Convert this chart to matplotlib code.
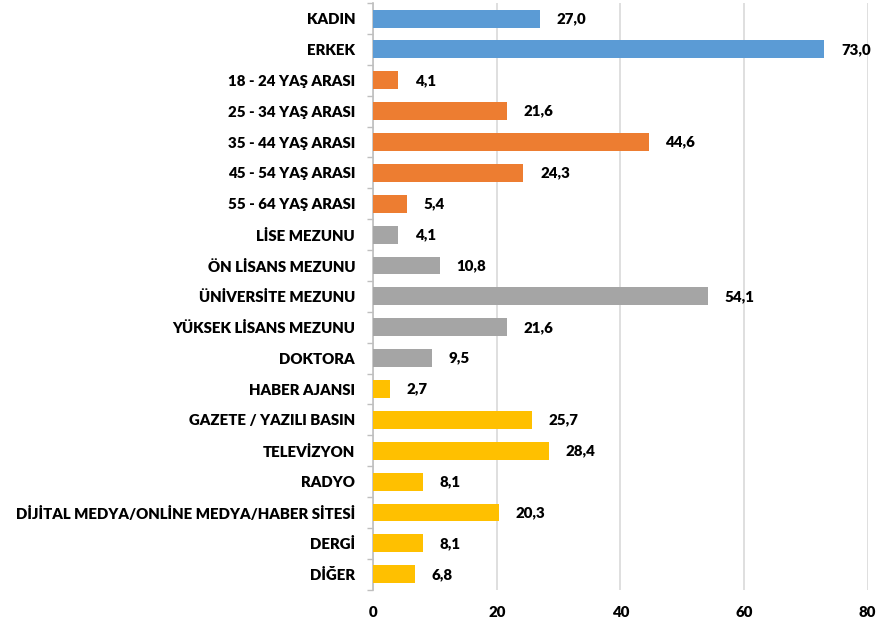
import matplotlib
matplotlib.use("Agg")
import matplotlib.pyplot as plt
import numpy as np

categories = ["KADIN", "ERKEK", "18 - 24 YAŞ ARASI", "25 - 34 YAŞ ARASI", "35 - 44 YAŞ ARASI",
              "45 - 54 YAŞ ARASI", "55 - 64 YAŞ ARASI", "LİSE MEZUNU", "ÖN LİSANS MEZUNU",
              "ÜNİVERSİTE MEZUNU", "YÜKSEK LİSANS MEZUNU", "DOKTORA", "HABER AJANSI",
              "GAZETE / YAZILI BASIN", "TELEVİZYON", "RADYO",
              "DİJİTAL MEDYA/ONLİNE MEDYA/HABER SİTESİ", "DERGİ", "DİĞER"]
values = [27.0, 73.0, 4.1, 21.6, 44.6, 24.3, 5.4, 4.1, 10.8, 54.1, 21.6, 9.5, 2.7,
          25.7, 28.4, 8.1, 20.3, 8.1, 6.8]
groups = [0, 0, 1, 1, 1, 1, 1, 2, 2, 2, 2, 2, 3, 3, 3, 3, 3, 3, 3]
group_colors = ["#5B9BD5", "#ED7D31", "#A5A5A5", "#FFC000"]
xticks = [0, 20, 40, 60, 80]

plt.rcParams['font.family'] = ['Lato', 'DejaVu Sans']
FS = 10.85
FW = "heavy"

fig = plt.figure(figsize=(8.8, 6.26), dpi=100)
ax = fig.add_axes([0.424, 0.058, 0.562, 0.937])

n = len(categories)
y = np.arange(n)
colors = [group_colors[g] for g in groups]
ax.barh(y, values, height=0.58, color=colors, zorder=3)

for yi, v in zip(y, values):
    ax.annotate(f"{v:.1f}".replace(".", ","), xy=(v, yi), xytext=(12, 0),
                textcoords="offset points", va="center", ha="left",
                fontsize=FS, fontweight=FW, color="#000000")

ax.set_ylim(n - 0.5, -0.5)
ax.set_xlim(0, 80)
ax.set_yticks(y)
ax.set_yticklabels(categories, fontsize=FS, fontweight=FW)
ax.set_yticks(np.arange(n + 1) - 0.5, minor=True)
ax.tick_params(axis="y", which="major", length=0, pad=13)
ax.tick_params(axis="y", which="minor", length=4, color="#BFBFBF", width=1)
ax.set_xticks(xticks)
ax.set_xticklabels([str(t) for t in xticks], fontsize=FS, fontweight=FW)
ax.tick_params(axis="x", length=0, pad=12)
ax.grid(axis="x", color="#D9D9D9", linewidth=1.2, zorder=0)
for s in ["top", "right", "bottom"]:
    ax.spines[s].set_visible(False)
ax.spines["left"].set_color("#BFBFBF")
ax.spines["left"].set_linewidth(1.2)

fig.savefig("out.png", dpi=100)
